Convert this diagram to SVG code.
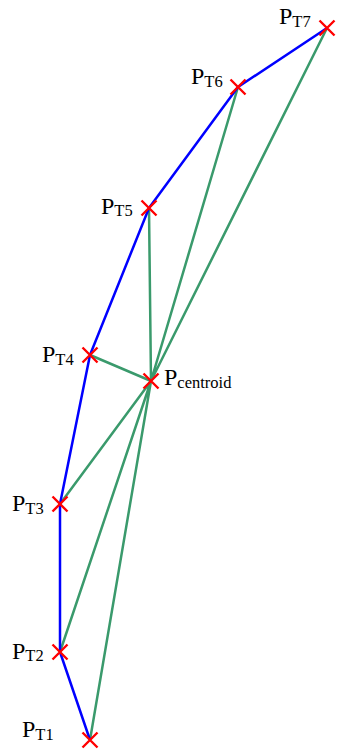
<svg xmlns="http://www.w3.org/2000/svg" width="337" height="751" viewBox="0 0 337 751">
<style>
.g{stroke:#3a9a6c;stroke-width:2.5;fill:none}
.b{stroke:#0000ff;stroke-width:2.5;fill:none;stroke-linejoin:round}
.x{stroke:#ff0000;stroke-width:2.4;fill:none}
text{font-family:"Liberation Serif","Times New Roman",serif;fill:#000}
.P{font-size:24px}
.s{font-size:16.5px}
</style>
<defs>
<path id="cross" class="x" d="M-7.5,-7.5L7.5,7.5M-7.5,7.5L7.5,-7.5"/>
</defs>
<g id="connectors">
<path class="g" d="M151,381L90,740M151,381L60,652M151,381L60,504M151,381L90,355M151,381L149,208M151,381L238,87M151,381L327,28"/>
<polyline class="b" points="90,740 60,652 60,504 90,355 149,208 238,87 327,28"/>
</g>
<g id="PT1"><use href="#cross" x="90" y="740"/><text x="22" y="737" class="P">P<tspan class="s" dy="2.5">T1</tspan></text></g>
<g id="PT2"><use href="#cross" x="60" y="652"/><text x="12" y="658.5" class="P">P<tspan class="s" dy="2.5">T2</tspan></text></g>
<g id="PT3"><use href="#cross" x="60" y="504"/><text x="12" y="511" class="P">P<tspan class="s" dy="2.5">T3</tspan></text></g>
<g id="PT4"><use href="#cross" x="90" y="355"/><text x="42" y="362" class="P">P<tspan class="s" dy="2.5">T4</tspan></text></g>
<g id="PT5"><use href="#cross" x="149" y="208"/><text x="101" y="213.5" class="P">P<tspan class="s" dy="2.5">T5</tspan></text></g>
<g id="PT6"><use href="#cross" x="238" y="87"/><text x="191" y="84" class="P">P<tspan class="s" dy="2.5">T6</tspan></text></g>
<g id="PT7"><use href="#cross" x="327" y="28"/><text x="279" y="24" class="P">P<tspan class="s" dy="2.5">T7</tspan></text></g>
<g id="Pcentroid"><use href="#cross" x="151" y="381"/><text x="164" y="385" class="P">P<tspan class="s" dy="2.5">centroid</tspan></text></g>
</svg>
